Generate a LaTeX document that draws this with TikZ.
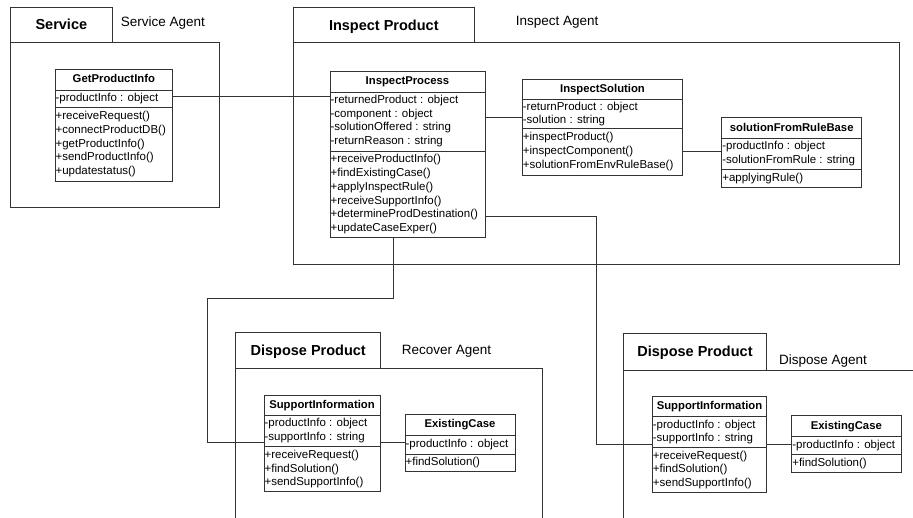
\documentclass[tikz,border=0pt]{standalone}
\usepackage{fontspec}
\setmainfont{Liberation Sans}
\usetikzlibrary{fit}

\tikzset{
  ln/.style={draw=black!80, line width=0.8pt},
  classbox/.style={ln, fill=white, inner sep=0pt},
  pkgbox/.style={ln, inner sep=0pt},
  ctitle/.style={anchor=base, inner sep=0pt,
    font=\bfseries\fontsize{11.3}{13}\selectfont},
  crow/.style={anchor=base west, inner xsep=0.8pt, inner ysep=0pt,
    font=\fontsize{11.5}{13}\selectfont},
  pkgtitle/.style={anchor=base, inner sep=0pt, font=\bfseries\fontsize{14.5}{17}\selectfont},
  pkglabel/.style={anchor=base west, inner sep=0pt, font=\fontsize{13.5}{16}\selectfont},
}

% rows of a class compartment: node, first baseline, spacing, rows
\newcommand\umlrows[4]{%
  \foreach \rowtxt [count=\k from 0] in {#4}
    \node[crow] at (#1.west |- 0,{#2+\k*#3}) {\rowtxt};}

% divider line across a class box
\newcommand\umldiv[2]{\draw[ln] (#1.west |- 0,#2) -- (#1.east |- 0,#2);}

\begin{document}
\begin{tikzpicture}[x=1pt,y=-1pt]
\useasboundingbox (0,0) rectangle (913,517);
\clip (0,0) rectangle (913,517);

% ---- packages ----
\node[pkgbox, fit={(10,7.3) (112.7,42.7)}] (svtab) {};
\node[pkgbox, fit={(10,42.7) (219,207.7)}] (svbody) {};
\node[pkgtitle] at (svtab.center |- 0,29.5) {Service};
\node[pkglabel] (svlab) at (120.7,26) {Service Agent};

\node[pkgbox, fit={(293.3,7.3) (474.3,42.7)}] (iptab) {};
\node[pkgbox, fit={(293.3,42.7) (899,264.3)}] (ipbody) {};
\node[pkgtitle] at (iptab.center |- 0,30) {Inspect Product};
\node[pkglabel] (iplab) at (515.7,25) {Inspect Agent};

\node[pkgbox, fit={(235.7,332.3) (380.7,368.3)}] (rctab) {};
\node[pkgbox, fit={(235.7,368.3) (542.7,540)}] (rcbody) {};
\node[pkgtitle] at (rctab.center |- 0,355) {Dispose Product};
\node[pkglabel] (rclab) at (401.7,354) {Recover Agent};

\node[pkgbox, fit={(623.3,333.3) (766.7,370)}] (dptab) {};
\node[pkgbox, fit={(623.3,370) (940,540)}] (dpbody) {};
\node[pkgtitle] at (dptab.center |- 0,356) {Dispose Product};
\node[pkglabel] (dplab) at (779,364.3) {Dispose Agent};

% ---- classes ----
\node[classbox, fit={(55,69) (172.7,181)}] (gpi) {};
\umldiv{gpi}{90} \umldiv{gpi}{107.7}
\node[ctitle] at (gpi.north |- 0,82.7) {GetProductInfo};
\umlrows{gpi}{101.6}{13.8}{{-productInfo : object}}
\umlrows{gpi}{119.5}{13.8}{{+receiveRequest()},{+connectProductDB()},{+getProductInfo()},{+sendProductInfo()},{+updatestatus()}}

\node[classbox, fit={(330,71) (485,237.7)}] (ipr) {};
\umldiv{ipr}{92.3} \umldiv{ipr}{151}
\node[ctitle] at (ipr.north |- 0,84.9) {InspectProcess};
\umlrows{ipr}{103.3}{13.8}{{-returnedProduct : object},{-component : object},{-solutionOffered : string},{-returnReason : string}}
\umlrows{ipr}{162.6}{13.8}{{+receiveProductInfo()},{+findExistingCase()},{+applyInspectRule()},{+receiveSupportInfo()},{+determineProdDestination()},{+updateCaseExper()}}

\node[classbox, fit={(522.3,79) (682.7,175)}] (isol) {};
\umldiv{isol}{99} \umldiv{isol}{128.3}
\node[ctitle] at (isol.north |- 0,92.2) {InspectSolution};
\umlrows{isol}{110}{13.4}{{-returnProduct : object},{-solution : string}}
\umlrows{isol}{140.6}{13.8}{{+inspectProduct()},{+inspectComponent()},{+solutionFromEnvRuleBase()}}

\node[classbox, fit={(721.7,117.3) (861.7,187.3)}] (sfr) {};
\umldiv{sfr}{138.3} \umldiv{sfr}{169.3}
\node[ctitle] at (sfr.north |- 0,131) {solutionFromRuleBase};
\umlrows{sfr}{149.7}{13.8}{{-productInfo : object},{-solutionFromRule : string}}
\umlrows{sfr}{181.1}{13.8}{{+applyingRule()}}

\node[classbox, fit={(264,395) (380,491.7)}] (rsi) {};
\umldiv{rsi}{415} \umldiv{rsi}{446.7}
\node[ctitle] at (rsi.north |- 0,408.2) {SupportInformation};
\umlrows{rsi}{426.6}{13.8}{{-productInfo : object},{-supportInfo : string}}
\umlrows{rsi}{458.2}{13.8}{{+receiveRequest()},{+findSolution()},{+sendSupportInfo()}}

\node[classbox, fit={(405,414.3) (515,471.7)}] (rec) {};
\umldiv{rec}{435} \umldiv{rec}{454.3}
\node[ctitle] at (rec.north |- 0,427.9) {ExistingCase};
\umlrows{rec}{447}{13.8}{{-productInfo : object}}
\umlrows{rec}{465.8}{13.8}{{+findSolution()}}

\node[classbox, fit={(652.3,396.7) (766.7,492.3)}] (dsi) {};
\umldiv{dsi}{416.7} \umldiv{dsi}{447.7}
\node[ctitle] at (dsi.north |- 0,409.9) {SupportInformation};
\umlrows{dsi}{428.1}{13.8}{{-productInfo : object},{-supportInfo : string}}
\umlrows{dsi}{459}{13.8}{{+receiveRequest()},{+findSolution()},{+sendSupportInfo()}}

\node[classbox, fit={(791.7,415) (901,472.3)}] (dec) {};
\umldiv{dec}{436.7} \umldiv{dec}{454.3}
\node[ctitle] at (dec.north |- 0,429) {ExistingCase};
\umlrows{dec}{448.3}{13.8}{{-productInfo : object}}
\umlrows{dec}{466.1}{13.8}{{+findSolution()}}

% ---- connectors ----
\draw[ln] (gpi.east |- 0,96.7) -- (ipr.west |- 0,96.7);
\draw[ln] (ipr.east |- 0,117.3) -- (isol.west |- 0,117.3);
\draw[ln] (isol.east |- 0,151.7) -- (sfr.west |- 0,151.7);
\draw[ln] (ipr.east |- 0,216.7) -| (596.7,444) -- (dsi.west |- 0,444);
\draw[ln] (ipr.south -| 393.3,0) -- (393.3,298) -| (207.3,442.7) -- (rsi.west |- 0,442.7);
\draw[ln] (rsi.east |- 0,442.7) -- (rec.west |- 0,442.7);
\draw[ln] (dsi.east |- 0,444) -- (dec.west |- 0,444);
\end{tikzpicture}
\end{document}
